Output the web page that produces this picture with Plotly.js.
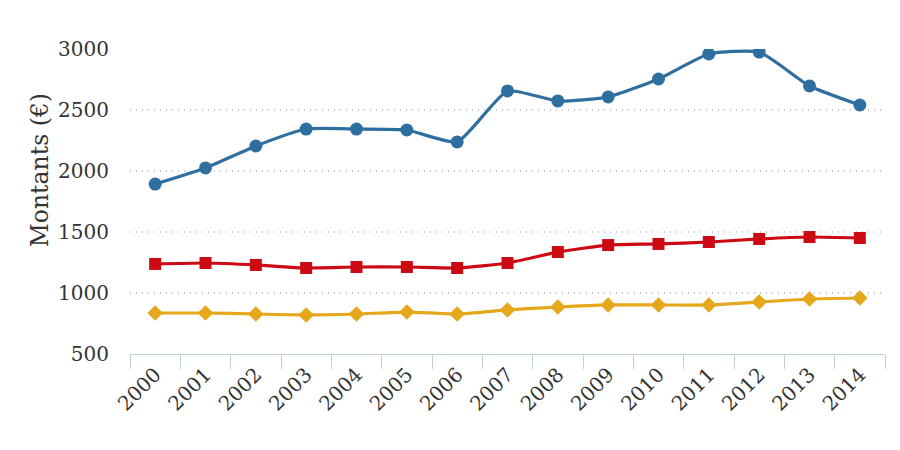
<!DOCTYPE html>
<html><head><meta charset="utf-8">
<script src="https://cdn.plot.ly/plotly-3.0.1.min.js"></script>
<style>body{margin:0;background:#fff}#c{width:900px;height:450px}</style>
</head><body><div id="c"></div>
<script>
const years = ['2000','2001','2002','2003','2004','2005','2006','2007','2008','2009','2010','2011','2012','2013','2014'];
const serieBleue = [1893,2025,2205,2344,2344,2336,2238,2656,2574,2607,2754,2959,2975,2697,2541];
const serieRouge = [1238,1246,1230,1205,1213,1213,1205,1246,1336,1393,1402,1418,1443,1459,1451];
const serieJaune = [836,836,828,820,828,844,828,861,885,902,902,902,926,951,959];
const yTicks = [500,1000,1500,2000,2500,3000];
const yTitle = 'Montants (€)';

const sm = 0.5;
const traces = [
  {x: years, y: serieBleue, type:'scatter', mode:'lines+markers', line:{color:'#2f6f9f', width:3.2, shape:'spline', smoothing:sm}, marker:{symbol:'circle', size:13, color:'#2f6f9f'}},
  {x: years, y: serieRouge, type:'scatter', mode:'lines+markers', line:{color:'#cc0a14', width:3.2, shape:'spline', smoothing:sm}, marker:{symbol:'square', size:12, color:'#cc0a14'}},
  {x: years, y: serieJaune, type:'scatter', mode:'lines+markers', line:{color:'#e5a81c', width:3.2, shape:'spline', smoothing:sm}, marker:{symbol:'diamond', size:12, color:'#e5a81c'}}
];
const layout = {
  width:900, height:450,
  margin:{l:130, r:15, t:49, b:96},
  showlegend:false,
  paper_bgcolor:'#fff', plot_bgcolor:'#fff',
  font:{family:'DejaVu Serif', color:'#333', size:20},
  xaxis:{type:'category', tickmode:'array', tickvals:years, ticktext:years, tickangle:-45,
    range:[-0.5,14.5], showgrid:false, showline:true, linecolor:'#c0cfe0', linewidth:1,
    ticks:'outside', ticklen:14, tickcolor:'#c0cfe0', tickson:'boundaries', zeroline:false,
    tickfont:{size:20, color:'#333'}},
  yaxis:{range:[500,3000], tickmode:'array', tickvals:yTicks, ticktext:yTicks.map(String),
    showgrid:true, gridcolor:'#c8c8c8', griddash:'1px,5px', gridwidth:1.5, zeroline:false,
    showline:false, ticks:'', ticklen:0, ticklabelstandoff:20, tickfont:{size:20, color:'#333'}},
  annotations:[{text:yTitle, textangle:-90, xref:'paper', yref:'paper', x:-0.119, y:0.603,
    xanchor:'center', yanchor:'middle', showarrow:false, font:{size:23.5, color:'#333'}}]
};
Plotly.newPlot('c', traces, layout, {displayModeBar:false, staticPlot:true});
</script></body></html>
